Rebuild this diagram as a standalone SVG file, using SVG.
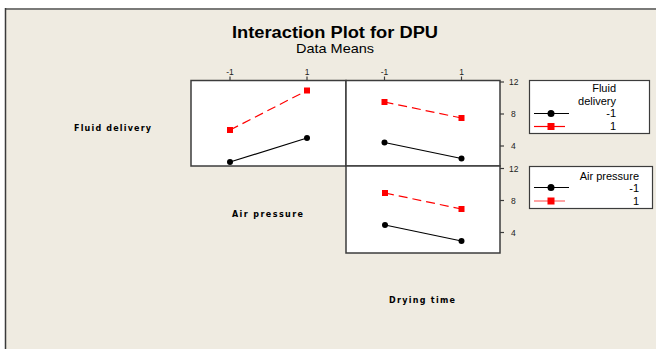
<svg xmlns="http://www.w3.org/2000/svg" width="656" height="349" viewBox="0 0 656 349">
  <defs>
    <style>
      .bg { fill: #efebe1; }
      .panel { fill: #ffffff; stroke: #3c3c3c; stroke-width: 1.5; }
      .tick { stroke: #3c3c3c; stroke-width: 1.2; }
      .ticklbl { font-family: "Liberation Sans", Arial, sans-serif; font-size: 8.5px; fill: #222; }
      .title { font-family: "Liberation Sans", Arial, sans-serif; font-size: 16px; font-weight: bold; fill: #000; text-anchor: middle; }
      .sub { font-family: "Liberation Sans", Arial, sans-serif; font-size: 13px; fill: #000; text-anchor: middle; }
      .axlbl { font-family: "DejaVu Sans", Verdana, sans-serif; font-size: 8px; font-weight: bold; fill: #000; }
      .leg { fill: #ffffff; stroke: #3c3c3c; stroke-width: 1.2; }
      .legtxt { font-family: "Liberation Sans", Arial, sans-serif; font-size: 11px; fill: #000; text-anchor: end; }
      .blk { stroke: #000; stroke-width: 1.2; fill: none; }
      .red { stroke: #ff0000; stroke-width: 1.2; fill: none; stroke-dasharray: 9 5; }
      .redsolid { stroke: #ff0000; stroke-width: 1.2; fill: none; }
      .dot { fill: #000; }
      .sq { fill: #ff0000; }
    </style>
  </defs>

  <rect x="0" y="0" width="656" height="349" fill="#ffffff"/>
  <rect class="bg" x="5" y="8" width="651" height="341"/>
  <line x1="5" y1="9" x2="656" y2="9" stroke="#7a7a78" stroke-width="2"/>
  <line x1="5.5" y1="8" x2="5.5" y2="349" stroke="#3a3a3a" stroke-width="1.5"/>

  <g id="title">
    <text class="title" x="335" y="38" textLength="206" lengthAdjust="spacingAndGlyphs">Interaction Plot for DPU</text>
    <text class="sub" x="335" y="52.5" textLength="78" lengthAdjust="spacingAndGlyphs">Data Means</text>
  </g>

  <g id="axis-labels">
    <text class="axlbl" x="74" y="131" textLength="77" lengthAdjust="spacing">Fluid delivery</text>
    <text class="axlbl" x="232" y="217" textLength="71" lengthAdjust="spacing">Air pressure</text>
    <text class="axlbl" x="389" y="303" textLength="66" lengthAdjust="spacing">Drying time</text>
  </g>

  <g id="panel-fluid-air">
    <rect class="panel" x="191" y="80.5" width="155" height="85.5"/>
    <line class="tick" x1="230" y1="76.5" x2="230" y2="80.5"/>
    <line class="tick" x1="307" y1="76.5" x2="307" y2="80.5"/>
    <text class="ticklbl" x="230" y="75" text-anchor="middle">-1</text>
    <text class="ticklbl" x="307" y="75" text-anchor="middle">1</text>
  </g>

  <g id="panel-fluid-drying">
    <rect class="panel" x="346" y="80.5" width="154" height="85.5"/>
    <line class="tick" x1="384.5" y1="76.5" x2="384.5" y2="80.5"/>
    <line class="tick" x1="461.5" y1="76.5" x2="461.5" y2="80.5"/>
    <text class="ticklbl" x="384.5" y="75" text-anchor="middle">-1</text>
    <text class="ticklbl" x="461.5" y="75" text-anchor="middle">1</text>
    <line class="tick" x1="500" y1="82" x2="504" y2="82"/>
    <line class="tick" x1="500" y1="114" x2="504" y2="114"/>
    <line class="tick" x1="500" y1="146" x2="504" y2="146"/>
    <text class="ticklbl" x="509" y="85">12</text>
    <text class="ticklbl" x="511" y="117">8</text>
    <text class="ticklbl" x="511" y="149">4</text>
  </g>

  <g id="panel-air-drying">
    <rect class="panel" x="346" y="166" width="154" height="87"/>
    <line class="tick" x1="500" y1="168.5" x2="504" y2="168.5"/>
    <line class="tick" x1="500" y1="200.5" x2="504" y2="200.5"/>
    <line class="tick" x1="500" y1="232.5" x2="504" y2="232.5"/>
    <text class="ticklbl" x="509" y="171.5">12</text>
    <text class="ticklbl" x="511" y="203.5">8</text>
    <text class="ticklbl" x="511" y="235.5">4</text>
  </g>

  <g id="connectors">
    <line class="red" x1="230" y1="130" x2="307" y2="90.5"/>
    <line class="blk" x1="230" y1="162" x2="307" y2="138"/>
    <line class="red" x1="384.5" y1="102" x2="461.5" y2="118"/>
    <line class="blk" x1="384.5" y1="142.5" x2="461.5" y2="158.5"/>
    <line class="red" x1="385" y1="193" x2="461.5" y2="209"/>
    <line class="blk" x1="385" y1="225" x2="461.5" y2="241"/>
  </g>

  <g id="markers">
    <rect class="sq" x="227" y="127" width="6" height="6"/>
    <rect class="sq" x="304" y="87.5" width="6" height="6"/>
    <circle class="dot" cx="230" cy="162" r="3"/>
    <circle class="dot" cx="307" cy="138" r="3"/>
    <rect class="sq" x="381.5" y="99" width="6" height="6"/>
    <rect class="sq" x="458.5" y="115" width="6" height="6"/>
    <circle class="dot" cx="384.5" cy="142.5" r="3"/>
    <circle class="dot" cx="461.5" cy="158.5" r="3"/>
    <rect class="sq" x="382" y="190" width="6" height="6"/>
    <rect class="sq" x="458.5" y="206" width="6" height="6"/>
    <circle class="dot" cx="385" cy="225" r="3"/>
    <circle class="dot" cx="461.5" cy="241" r="3"/>
  </g>

  <g id="legend-fluid-delivery">
    <rect class="leg" x="529.5" y="80.5" width="120" height="53"/>
    <text class="legtxt" x="616" y="92">Fluid</text>
    <text class="legtxt" x="616" y="105">delivery</text>
    <text class="legtxt" x="616" y="117">-1</text>
    <text class="legtxt" x="616" y="130">1</text>
    <line class="blk" x1="534" y1="113.5" x2="569" y2="113.5"/>
    <circle class="dot" cx="551" cy="113.5" r="3.5"/>
    <line class="redsolid" x1="534" y1="126.5" x2="565" y2="126.5"/>
    <rect class="sq" x="547.5" y="123" width="7" height="7"/>
  </g>

  <g id="legend-air-pressure">
    <rect class="leg" x="529.5" y="166.5" width="123" height="42"/>
    <text class="legtxt" x="639" y="179.5">Air pressure</text>
    <text class="legtxt" x="639" y="192">-1</text>
    <text class="legtxt" x="639" y="204.5">1</text>
    <line class="blk" x1="534" y1="187.5" x2="569" y2="187.5"/>
    <circle class="dot" cx="551" cy="187.5" r="3.5"/>
    <line class="redsolid" x1="534" y1="201" x2="565" y2="201" stroke-opacity="0.6"/>
    <rect class="sq" x="547.5" y="197.5" width="7" height="7"/>
  </g>
</svg>
